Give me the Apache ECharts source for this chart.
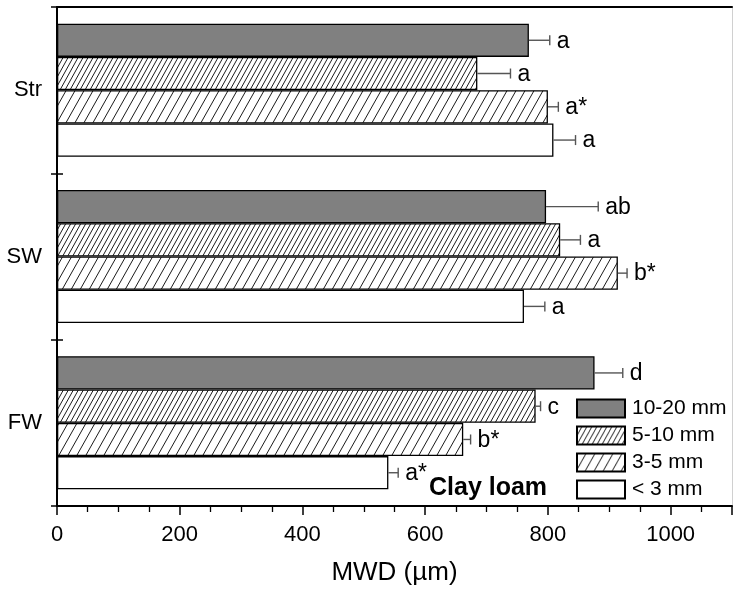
<!DOCTYPE html>
<html>
<head>
<meta charset="utf-8">
<script src="https://cdn.jsdelivr.net/npm/echarts@6/dist/echarts.min.js"></script>
<style>
html,body{margin:0;padding:0;background:#fff;}
#chart{width:735px;height:594px;}
</style>
</head>
<body>
<div id="chart"></div>
<script>
// ---- data ----
const categories = ['Str', 'SW', 'FW'];
const seriesNames = ['10-20 mm', '5-10 mm', '3-5 mm', '< 3 mm'];
const mean10_20 = [769, 797, 876];
const err10_20 = [34, 85, 46];
const letters10_20 = ['a', 'ab', 'd'];
const mean5_10 = [685, 820, 780];
const err5_10 = [54, 33, 8];
const letters5_10 = ['a', 'a', 'c'];
const mean3_5 = [800, 914, 662];
const err3_5 = [17, 15, 12];
const letters3_5 = ['a*', 'b*', 'b*'];
const meanLt3 = [809, 761, 540];
const errLt3 = [36, 34, 16];
const lettersLt3 = ['a', 'a', 'a*'];
const xTicks = [0, 200, 400, 600, 800, 1000];
const annotation = 'Clay loam';
const axisTitle = 'MWD (µm)';

const means = [mean10_20, mean5_10, mean3_5, meanLt3];
const errs = [err10_20, err5_10, err3_5, errLt3];
const letters = [letters10_20, letters5_10, letters3_5, lettersLt3];

function hatch(w, h) {
  const c = document.createElement('canvas');
  c.width = w; c.height = h;
  const g = c.getContext('2d');
  g.fillStyle = '#fff';
  g.fillRect(0, 0, w, h);
  g.strokeStyle = '#000';
  g.lineWidth = 0.9;
  for (let k = -1; k <= 1; k++) {
    g.beginPath();
    g.moveTo(k * w, h);
    g.lineTo((k + 1) * w, 0);
    g.stroke();
  }
  return {image: c, repeat: 'repeat'};
}
const fills = ['#808080', hatch(5, 9), hatch(9, 16), '#ffffff'];

const FONT = 'Liberation Sans, Arial, sans-serif';

const barSeries = seriesNames.map((name, s) => ({
  name: name,
  type: 'bar',
  data: means[s],
  barGap: '0%',
  barCategoryGap: '20%',
  itemStyle: {color: fills[s], borderColor: '#000', borderWidth: 1.3},
  emphasis: {disabled: true},
  silent: true
}));

const errData = [];
for (let s = 0; s < 4; s++) {
  for (let c = 0; c < categories.length; c++) {
    errData.push([c, means[s][c], means[s][c] + errs[s][c], s]);
  }
}

const errSeries = {
  type: 'custom',
  silent: true,
  data: errData,
  encode: {y: 0, x: [1, 2]},
  z: 5,
  renderItem: function (params, api) {
    const c = api.value(0);
    const m = api.value(1);
    const e = api.value(2);
    const s = api.value(3);
    const band = api.size([0, 1])[1];
    const bw = band * 0.8 / 4;
    const center = api.coord([m, c]);
    const y = center[1] - band * 0.4 + bw * (s + 0.5);
    const x0 = center[0];
    const x1 = api.coord([e, c])[0];
    const letter = letters[s][c];
    return {
      type: 'group',
      children: [
        {type: 'line', shape: {x1: x0, y1: y, x2: x1, y2: y}, style: {stroke: '#555', lineWidth: 1.4}},
        {type: 'line', shape: {x1: x1, y1: y - 5, x2: x1, y2: y + 5}, style: {stroke: '#555', lineWidth: 1.4}},
        {type: 'text', x: x1 + 7, y: y + 1, style: {text: letter, fill: '#000', font: '23px ' + FONT, textAlign: 'left', textVerticalAlign: 'middle'}}
      ]
    };
  }
};

const chart = echarts.init(document.getElementById('chart'), null, {renderer: 'canvas'});
chart.setOption({
  animation: false,
  backgroundColor: '#fff',
  textStyle: {fontFamily: FONT},
  grid: {left: 57, right: 2, top: 7, bottom: 88, containLabel: false},
  legend: {
    orient: 'vertical',
    left: 576,
    top: 398,
    icon: 'rect',
    itemWidth: 48,
    itemHeight: 18,
    itemGap: 6,
    data: seriesNames,
    textStyle: {fontSize: 21, color: '#000', fontFamily: FONT, padding: [0, 0, 0, 2]},
    selectedMode: false,
    padding: 0
  },
  graphic: [{
    type: 'text',
    left: 429,
    top: 476,
    style: {text: annotation, font: 'bold 25px ' + FONT, fill: '#000'}
  }],
  xAxis: [{
    type: 'value',
    min: 0,
    max: 1100,
    interval: 200,
    position: 'bottom',
    name: axisTitle,
    nameLocation: 'middle',
    nameGap: 54,
    nameTextStyle: {fontSize: 26, color: '#000', fontFamily: FONT},
    axisLine: {show: true, lineStyle: {color: '#000', width: 2}},
    axisTick: {show: true, length: 9, lineStyle: {color: '#000', width: 1.5}},
    minorTick: {show: true, splitNumber: 4, length: 6, lineStyle: {color: '#000', width: 1.3}},
    splitLine: {show: false},
    axisLabel: {
      fontSize: 22, color: '#000', margin: 18, fontFamily: FONT,
      formatter: function (v) { return xTicks.indexOf(v) >= 0 ? String(v) : ''; }
    }
  }, {
    type: 'value',
    min: 0,
    max: 1100,
    position: 'top',
    axisLine: {show: true, lineStyle: {color: '#000', width: 2}},
    axisTick: {show: false},
    axisLabel: {show: false},
    splitLine: {show: false}
  }],
  yAxis: [{
    type: 'category',
    data: categories,
    inverse: true,
    position: 'left',
    axisLine: {show: true, onZero: false, lineStyle: {color: '#000', width: 2}},
    axisTick: {show: true, inside: false, length: 6, lineStyle: {color: '#000', width: 1.5}},
    axisLabel: {fontSize: 22, color: '#000', margin: 15, fontFamily: FONT}
  }, {
    type: 'category',
    data: categories,
    inverse: true,
    position: 'left',
    axisLine: {show: false},
    axisTick: {show: true, inside: true, length: 6, lineStyle: {color: '#000', width: 1.5}},
    axisLabel: {show: false}
  }, {
    type: 'category',
    data: categories,
    inverse: true,
    position: 'right',
    axisLine: {show: true, onZero: false, lineStyle: {color: '#d0d0d0', width: 1}},
    axisTick: {show: false},
    axisLabel: {show: false}
  }],
  series: barSeries.concat([errSeries])
});
</script>
</body>
</html>
